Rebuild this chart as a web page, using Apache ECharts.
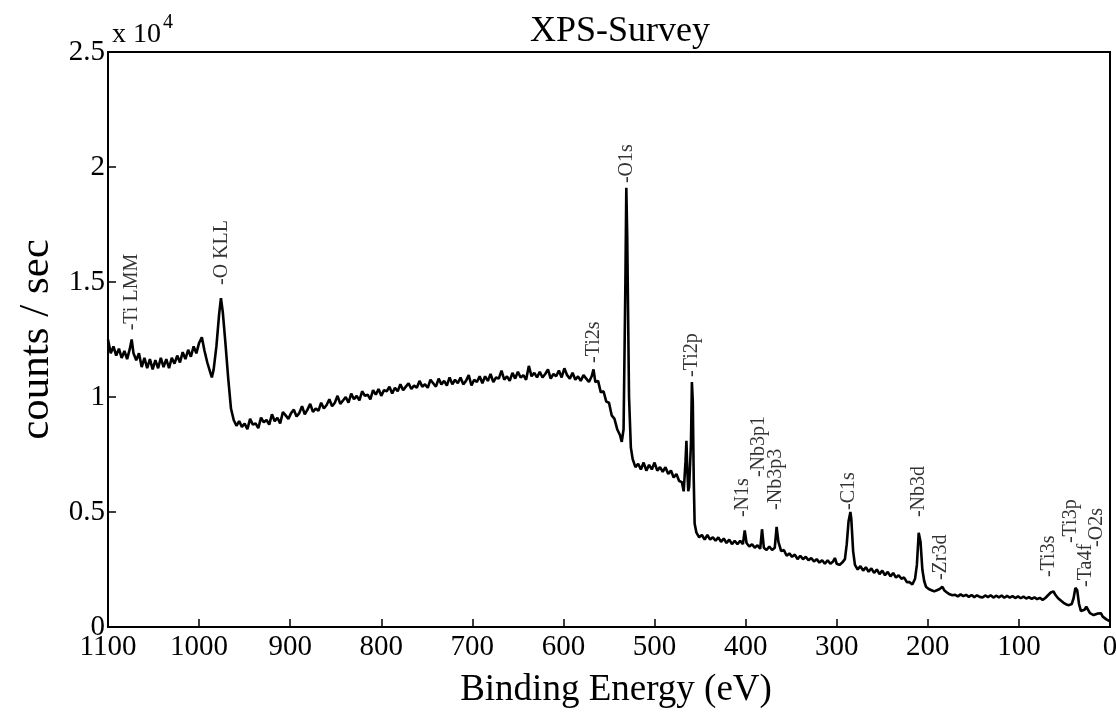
<!DOCTYPE html>
<html>
<head>
<meta charset="utf-8">
<script src="https://cdn.jsdelivr.net/npm/echarts@6/dist/echarts.min.js"></script>
<style>html,body{margin:0;padding:0;background:#fff;}#c{width:1116px;height:713px;}</style>
</head>
<body>
<div id="c"></div>
<script>
// Binding energy (eV) and counts/sec
const bindingEnergy = [
1100,1097,1094,1091,1088,1085,1082,1079,1076,1074,
1072,1069,1066,1063,1060,1057,1054,1051,1048,1045,
1042,1039,1036,1033,1030,1027,1024,1021,1018,1015,
1012,1009,1006,1003,1000,997,994,991,988,986,
984,981,978,976,974,971,968,965,962,959,
956,953,950,947,944,941,938,935,932,929,
926,923,920,917,914,911,908,905,902,899,
896,893,890,887,884,881,878,875,872,869,
866,863,860,857,854,851,848,845,842,839,
836,833,830,827,824,821,818,815,812,809,
806,803,800,797,794,791,788,785,782,779,
776,773,770,767,764,761,758,755,752,749,
746,743,740,737,734,731,728,725,722,719,
716,713,710,707,704,701,698,695,692,689,
686,683,680,677,674,671,668,665,662,659,
656,653,650,647,644,641,638,635,632,629,
626,623,620,617,614,611,608,605,602,599,
596,593,590,587,584,581,578,575,572,569,
567,565,562,559,556,553,550,547,544,541,
538,536,534,532,531,530,528,526,524,521,
518,515,512,509,506,503,500,497,494,491,
488,485,482,479,476,473,470,468,466,465,
464,463,462,460,459,458,457,456,454,451,
448,445,442,439,436,433,430,427,424,421,
418,415,412,409,406,403,401,399,396,393,
390,387,384,382,380,377,374,371,368,366,
364,361,358,355,352,349,346,343,340,337,
334,331,328,325,322,319,316,313,310,307,
304,302,300,297,294,291,289,287,285,284,
282,280,277,274,271,268,265,262,259,256,
253,250,247,244,241,238,235,232,229,226,
223,220,217,214,212,210,208,206,204,202,
199,196,193,190,187,184,182,179,176,173,
170,167,164,161,158,155,152,149,146,143,
140,137,134,131,128,125,122,119,116,113,
110,107,104,101,98,95,92,89,86,83,
80,77,74,71,68,65,62,60,57,54,
51,48,45,42,40,38,36,34,32,30,
28,26,24,22,20,18,16,14,12,10,
8,6,4,2,0];
const countsPerSec = [
12500,11900,12200,11800,12100,11700,12000,11650,12100,12500,
11900,11600,11900,11300,11700,11250,11650,11200,11600,11250,
11700,11300,11650,11250,11700,11450,11800,11500,11950,11650,
12050,11750,12200,11900,12350,12600,12000,11500,11100,10850,
11200,12200,13600,14300,13700,12300,10800,9500,9000,8750,
8950,8700,8850,8600,9050,8800,8850,8650,9100,8900,
9000,8800,9250,8950,9100,8850,9350,9200,9050,9300,
9450,9150,9300,9600,9250,9450,9700,9350,9500,9400,
9750,9500,9650,9900,9600,9750,10050,9700,9850,10000,
9750,10150,9900,10050,9850,10250,10050,10100,9900,10300,
10100,10350,10050,10300,10250,10450,10150,10400,10250,10550,
10300,10450,10600,10350,10500,10400,10700,10450,10550,10400,
10750,10600,10450,10800,10550,10700,10500,10850,10550,10750,
10600,10850,10550,10700,10950,10500,10750,10650,10900,10600,
10900,10700,11000,10650,10850,10800,11150,10750,10900,10700,
11050,10800,11100,10850,10950,10750,11350,10900,11050,10850,
11100,10850,11000,11200,10800,11000,10900,11150,10850,11250,
10950,10800,11050,10750,10900,10700,10950,10800,10650,10900,
11200,10650,10700,10200,10250,9800,9750,9200,9050,8600,
8350,8050,8600,15000,19100,17000,10000,7800,7300,6950,
7100,6850,7150,6800,7050,6850,7150,6800,6950,6750,
6950,6650,6800,6500,6650,6350,6300,5900,7200,8100,
6800,5900,6100,8000,10650,9800,6500,4500,4100,3900,
4000,3800,4000,3800,3900,3750,3900,3700,3850,3650,
3800,3600,3750,3600,3750,3600,4200,3650,3500,3600,
3450,3550,3400,4250,3450,3350,3500,3350,3450,4350,
3700,3300,3350,3100,3200,3050,3150,2950,3100,2950,
3050,2900,3000,2850,2950,2800,2900,2750,2900,2750,
2850,3000,2750,2700,2800,2950,3600,4600,5000,4700,
3300,2700,2500,2650,2450,2600,2400,2550,2350,2500,
2300,2450,2250,2400,2200,2350,2150,2250,2100,2150,
1950,1950,1850,2100,2700,4100,3700,2500,2000,1750,
1650,1600,1550,1600,1650,1750,1600,1500,1420,1380,
1400,1330,1420,1340,1400,1310,1390,1300,1380,1310,
1280,1370,1300,1380,1280,1360,1290,1370,1270,1350,
1280,1340,1260,1330,1250,1320,1240,1300,1220,1290,
1210,1270,1180,1260,1380,1500,1550,1400,1250,1150,
1050,980,950,1000,1250,1700,1600,1000,700,650,
750,880,800,600,550,520,500,580,650,600,
450,380,330,300,250];

// Peak annotations: names, binding energies, and the count level where each label starts
const peakNames = ["Ti LMM","O KLL","Ti2s","O1s","Ti2p","N1s","Nb3p1","Nb3p3","C1s","Nb3d","Zr3d","Ti3s","Ti3p","Ta4f","O2s"];
const peakBE = [1074,975,567,531,459,403,386,367,287,210,186,67,43,27,14];
const peakLabelLevel = [12900,14870,11480,19300,10870,4780,6520,5090,5090,4780,2040,2170,3650,1740,3480];

const yTickLabels = ["0","0.5","1","1.5","2","2.5"];

const FONT = "'Liberation Serif','Times New Roman',serif";
const chart = echarts.init(document.getElementById('c'), null, {renderer:'canvas'});

const lineData = bindingEnergy.map((e,i)=>[e, countsPerSec[i]]);
const peakData = peakNames.map((n,i)=>({name:n, value:[peakBE[i], peakLabelLevel[i]]}));

chart.setOption({
  animation:false,
  backgroundColor:'#fff',
  title:[
    {text:'XPS-Survey', left:525, top:9, textStyle:{fontFamily:FONT, fontSize:36, fontWeight:'normal', color:'#000'}},
    {text:'x 10', left:107, top:16, textStyle:{fontFamily:FONT, fontSize:28, fontWeight:'normal', color:'#000'}},
    {text:'4', left:158, top:8, textStyle:{fontFamily:FONT, fontSize:20, fontWeight:'normal', color:'#000'}}
  ],
  grid:{left:108, right:6, top:52, bottom:86, containLabel:false, outerBoundsMode:'none',
    show:true, borderColor:'#000', borderWidth:2, backgroundColor:'transparent'},
  xAxis:{
    type:'value', min:0, max:1100, interval:100, inverse:true,
    name:'Binding Energy (eV)', nameLocation:'middle', nameGap:45,
    nameTextStyle:{fontFamily:FONT, fontSize:37, color:'#000', padding:[0,0,0,14]},
    axisLine:{show:true, onZero:false, lineStyle:{color:'#000', width:2}},
    axisTick:{show:true, inside:true, length:8, lineStyle:{color:'#000', width:1.5}},
    axisLabel:{fontFamily:FONT, fontSize:29, color:'#000', margin:6, formatter:(v)=>String(v)},
    splitLine:{show:false}
  },
  yAxis:{
    type:'value', min:0, max:25000, interval:5000, position:'left',
    name:'counts / sec', nameLocation:'middle', nameGap:48,
    nameTextStyle:{fontFamily:FONT, fontSize:43, color:'#000'},
    axisLine:{show:true, onZero:false, lineStyle:{color:'#000', width:2}},
    axisTick:{show:true, inside:true, length:8, lineStyle:{color:'#000', width:1.5}},
    axisLabel:{fontFamily:FONT, fontSize:29, color:'#000', margin:3,
      formatter:(v)=>yTickLabels[Math.round(v/5000)]},
    splitLine:{show:false}
  },
  series:[
    {type:'line', data:lineData, showSymbol:false, symbol:'none',
      lineStyle:{color:'#000', width:2.6}, silent:true},
    {type:'scatter', data:peakData, symbolSize:0, silent:true,
      label:{show:true, formatter:(p)=>'-'+p.name, rotate:90, position:[0,0],
        align:'left', verticalAlign:'middle', fontFamily:FONT, fontSize:20, color:'#000'}}
  ]
});
</script>
</body>
</html>
